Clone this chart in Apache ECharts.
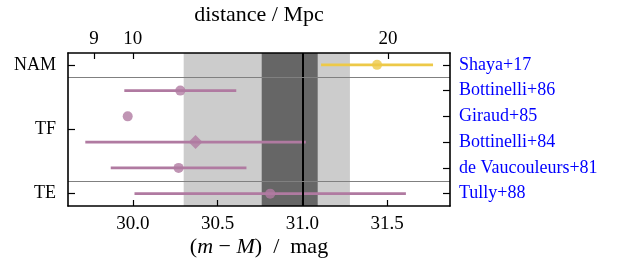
<!DOCTYPE html>
<html>
<head>
<meta charset="utf-8">
<script src="https://cdn.jsdelivr.net/npm/echarts@6/dist/echarts.min.js"></script>
<style>
  html, body { margin: 0; padding: 0; background: #fff; }
  #chart { width: 620px; height: 260px; }
</style>
</head>
<body>
<div id="chart"></div>
<script>
// rows from top to bottom
const rowLabels = ["Shaya+17", "Bottinelli+86", "Giraud+85", "Bottinelli+84", "de Vaucouleurs+81", "Tully+88"];
const rowMu = [31.44, 30.28, 29.97, 30.37, 30.27, 30.81];
const rowErr = [0.33, 0.33, 0, 0.65, 0.40, 0.80];
const rowMethod = ["NAM", "TF", "TF", "TF", "TF", "TE"];
const rowSymbol = ["circle", "circle", "circle", "diamond", "circle", "circle"];

const groupLabels = ["NAM", "TF", "TE"];
const groupPos = [0, 2.5, 5];
const separators = [0.5, 4.5];

const muTicks = [30.0, 30.5, 31.0, 31.5];
const distTicks = [9, 10, 20]; // Mpc

const lightBand = [30.30, 31.28];
const darkBand = [30.76, 31.09];
const meanMu = 31.0;

const xMin = 29.618, xMax = 31.87;
const font = "Liberation Serif";
const colors = { NAM: "#edc948", TF: "#b07aa1", TE: "#b07aa1" };

const distToMu = d => 25 + 5 * Math.log10(d);
const muToDist = m => Math.pow(10, (m - 25) / 5);
const distMu = distTicks.map(distToMu);

const chart = echarts.init(document.getElementById("chart"), null, { renderer: "canvas" });

const boxLine = { show: true, onZero: false, lineStyle: { color: "#000", width: 1.6 } };
const tickIn = len => ({ show: true, inside: true, length: len, lineStyle: { color: "#000", width: 1.2 } });

const errData = rowMu
  .map((m, i) => ({ value: [m - rowErr[i], m + rowErr[i], i], color: colors[rowMethod[i]] }))
  .filter((d, i) => rowErr[i] > 0);

const pointData = rowMu.map((m, i) => ({
  value: [m, i],
  symbol: rowSymbol[i],
  symbolSize: rowSymbol[i] === "diamond" ? 14 : 10,
  itemStyle: { color: colors[rowMethod[i]] }
}));

const option = {
  animation: false,
  grid: { left: 68, top: 53, right: 170, bottom: 54, containLabel: false, outerBoundsMode: "none" },
  xAxis: [
    {
      type: "value", position: "bottom", min: xMin, max: xMax, z: 10,
      axisLine: boxLine,
      axisTick: Object.assign(tickIn(6), { customValues: muTicks }),
      axisLabel: {
        customValues: muTicks, formatter: v => v.toFixed(1),
        fontFamily: font, fontSize: 19, color: "#000", margin: 9
      },
      splitLine: { show: false },
      name: "{p|(}{i|m}{p| − }{i|M}{p|)  /  mag}",
      nameLocation: "middle", nameGap: 30, nameMoveOverlap: false,
      nameTextStyle: {
        rich: {
          p: { fontFamily: font, fontSize: 22, color: "#000" },
          i: { fontFamily: font, fontSize: 22, fontStyle: "italic", color: "#000" }
        }
      }
    },
    {
      type: "value", position: "top", min: xMin, max: xMax, z: 10,
      axisLine: boxLine,
      axisTick: Object.assign(tickIn(6), { customValues: distMu }),
      axisLabel: {
        customValues: distMu, formatter: v => String(Math.round(muToDist(v))),
        fontFamily: font, fontSize: 19, color: "#000", margin: 4
      },
      splitLine: { show: false },
      name: "distance / Mpc",
      nameLocation: "middle", nameGap: 27, nameMoveOverlap: false,
      nameTextStyle: { fontFamily: font, fontSize: 22, color: "#000" }
    }
  ],
  yAxis: [
    {
      type: "value", position: "left", inverse: true, min: -0.46, max: 5.48, z: 10,
      axisLine: boxLine,
      axisTick: Object.assign(tickIn(7), { customValues: groupPos }),
      axisLabel: {
        customValues: groupPos, formatter: v => groupLabels[groupPos.indexOf(v)],
        fontFamily: font, fontSize: 18, color: "#000", margin: 12
      },
      splitLine: { show: false }
    },
    {
      type: "value", position: "right", inverse: true, min: -0.46, max: 5.48, z: 10,
      axisLine: boxLine,
      axisTick: Object.assign(tickIn(7), { customValues: rowLabels.map((_, i) => i) }),
      axisLabel: {
        customValues: rowLabels.map((_, i) => i), formatter: v => rowLabels[v],
        fontFamily: font, fontSize: 18, color: "#0000ff", margin: 9
      },
      splitLine: { show: false }
    }
  ],
  series: [
    {
      type: "line", data: [], z: 1,
      markArea: {
        silent: true,
        data: [
          [{ xAxis: lightBand[0], itemStyle: { color: "#cccccc" } }, { xAxis: lightBand[1] }],
          [{ xAxis: darkBand[0], itemStyle: { color: "#666666" } }, { xAxis: darkBand[1] }]
        ]
      },
      markLine: {
        silent: true, symbol: "none", label: { show: false },
        data: [
          { xAxis: meanMu, lineStyle: { color: "#000", width: 2, type: "solid" } },
          ...separators.map(s => ({ yAxis: s, lineStyle: { color: "#808080", width: 1.2, type: "solid" } }))
        ]
      }
    },
    {
      type: "custom", z: 3,
      renderItem: (params, api) => {
        const a = api.coord([api.value(0), api.value(2)]);
        const b = api.coord([api.value(1), api.value(2)]);
        return {
          type: "line",
          shape: { x1: a[0], y1: a[1], x2: b[0], y2: b[1] },
          style: { stroke: errData[params.dataIndex].color, lineWidth: 2.8 }
        };
      },
      encode: { x: [0, 1], y: 2 },
      data: errData.map(d => d.value)
    },
    {
      type: "scatter", z: 4,
      data: pointData
    }
  ]
};

chart.setOption(option);
</script>
</body>
</html>
